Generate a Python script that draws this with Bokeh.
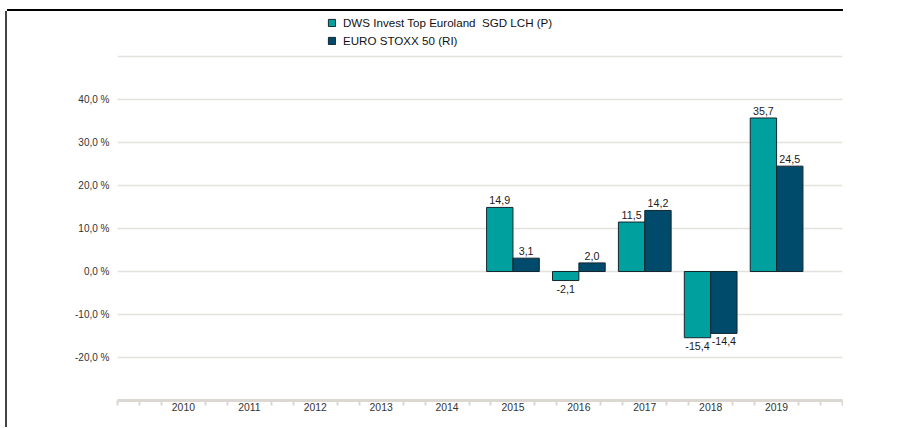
from bokeh.plotting import figure
from bokeh.models import ColumnDataSource, FixedTicker, Legend, LegendItem, Range1d
from bokeh.transform import dodge
from bokeh.core.properties import value
from bokeh.embed import file_html
from bokeh.resources import INLINE

# ---- data ----
years = [2015, 2016, 2017, 2018, 2019]
fund_values = [14.9, -2.1, 11.5, -15.4, 35.7]
index_values = [3.1, 2.0, 14.2, -14.4, 24.5]
series_names = ["DWS Invest Top Euroland  SGD LCH (P)", "EURO STOXX 50 (RI)"]
axis_years = [2010, 2011, 2012, 2013, 2014, 2015, 2016, 2017, 2018, 2019]
y_ticks = [-30, -20, -10, 0, 10, 20, 30, 40, 50]
y_tick_labels = ["", "-20,0 %", "-10,0 %", "0,0 %", "10,0 %", "20,0 %", "30,0 %", "40,0 %", ""]

TEAL = "#00A09F"
NAVY = "#004A6B"
EDGE = "#14262E"
GRID = "#E4E1DC"
AXIS = "#DCD8D1"
FONT = "Liberation Sans"

# layout: frame spans the legend area too; 4.3 px per percentage point
PX_PER_UNIT = 4.3
FRAME_H = 389
Y_MIN = -30
Y_MAX = Y_MIN + FRAME_H / PX_PER_UNIT

src = ColumnDataSource(data=dict(year=years, fund=fund_values, index=index_values))

p = figure(width=836, height=416, x_range=Range1d(2009, 2020), y_range=Range1d(Y_MIN, Y_MAX),
           output_backend="svg", toolbar_location=None,
           min_border_left=110, min_border_right=1, min_border_top=0, min_border_bottom=27)
p.styles = {"margin-left": "7px", "margin-top": "11px",
            "box-shadow": "0px -2px 0px 0px #000000, -2px 0px 0px 0px #444444"}
p.outline_line_color = None
p.background_fill_color = "white"
p.border_fill_color = "white"

# grid
p.xgrid.visible = False
p.ygrid.ticker = FixedTicker(ticks=y_ticks)
p.ygrid.grid_line_color = GRID
p.ygrid.grid_line_width = 1.5

# y axis
ya = p.yaxis[0]
ya.ticker = FixedTicker(ticks=y_ticks)
ya.major_label_overrides = {t: l for t, l in zip(y_ticks, y_tick_labels)}
ya.axis_line_color = None
ya.major_tick_line_color = None
ya.minor_tick_line_color = None
ya.major_label_standoff = 2
ya.major_label_text_font = FONT
ya.major_label_text_font_size = "10px"
ya.major_label_text_color = "#333333"

# x axis
minor = [2009 + k / 3 for k in range(34) if k % 3 != 0] + [2009, 2020]
xa = p.xaxis[0]
xa.ticker = FixedTicker(ticks=axis_years, minor_ticks=minor)
xa.axis_line_color = AXIS
xa.axis_line_width = 3
xa.major_tick_line_color = None
xa.major_tick_out = 0
xa.major_tick_in = 0
xa.minor_tick_line_color = AXIS
xa.minor_tick_line_width = 2
xa.minor_tick_out = 5
xa.minor_tick_in = 0
xa.major_label_standoff = -3
xa.major_label_text_font = FONT
xa.major_label_text_font_size = "10.4px"
xa.major_label_text_color = "#333333"

# bars
r1 = p.vbar(x=dodge("year", -0.2), top="fund", bottom=0, width=0.4, source=src,
            fill_color=TEAL, line_color=EDGE, line_width=1)
r2 = p.vbar(x=dodge("year", 0.2), top="index", bottom=0, width=0.4, source=src,
            fill_color=NAVY, line_color=EDGE, line_width=1)

# value labels
def fmt(v):
    return f"{v:.1f}".replace(".", ",")

for vals, shift in ((fund_values, -0.2), (index_values, 0.2)):
    pos = dict(x=[y for y, v in zip(years, vals) if v >= 0],
               y=[v for v in vals if v >= 0],
               t=[fmt(v) for v in vals if v >= 0])
    neg = dict(x=[y for y, v in zip(years, vals) if v < 0],
               y=[v for v in vals if v < 0],
               t=[fmt(v) for v in vals if v < 0])
    p.text(x=dodge("x", shift), y="y", text="t", source=ColumnDataSource(pos),
           text_align="center", text_baseline="bottom", y_offset=-3,
           text_font=value(FONT), text_font_size="10.7px", text_color="#1A1A1A")
    p.text(x=dodge("x", shift), y="y", text="t", source=ColumnDataSource(neg),
           text_align="center", text_baseline="top", y_offset=4,
           text_font=value(FONT), text_font_size="10.7px", text_color="#1A1A1A")

# legend
legend = Legend(items=[LegendItem(label=series_names[0], renderers=[r1]),
                       LegendItem(label=series_names[1], renderers=[r2])],
                location=(210, 353), orientation="vertical",
                glyph_width=9, glyph_height=9, label_standoff=7, spacing=5,
                padding=0, margin=0, border_line_color=None, background_fill_alpha=0,
                label_text_font=FONT, label_text_font_size="11.6px", label_text_color="#111111")
p.add_layout(legend)

open("out.html", "w").write(file_html(p, INLINE))
